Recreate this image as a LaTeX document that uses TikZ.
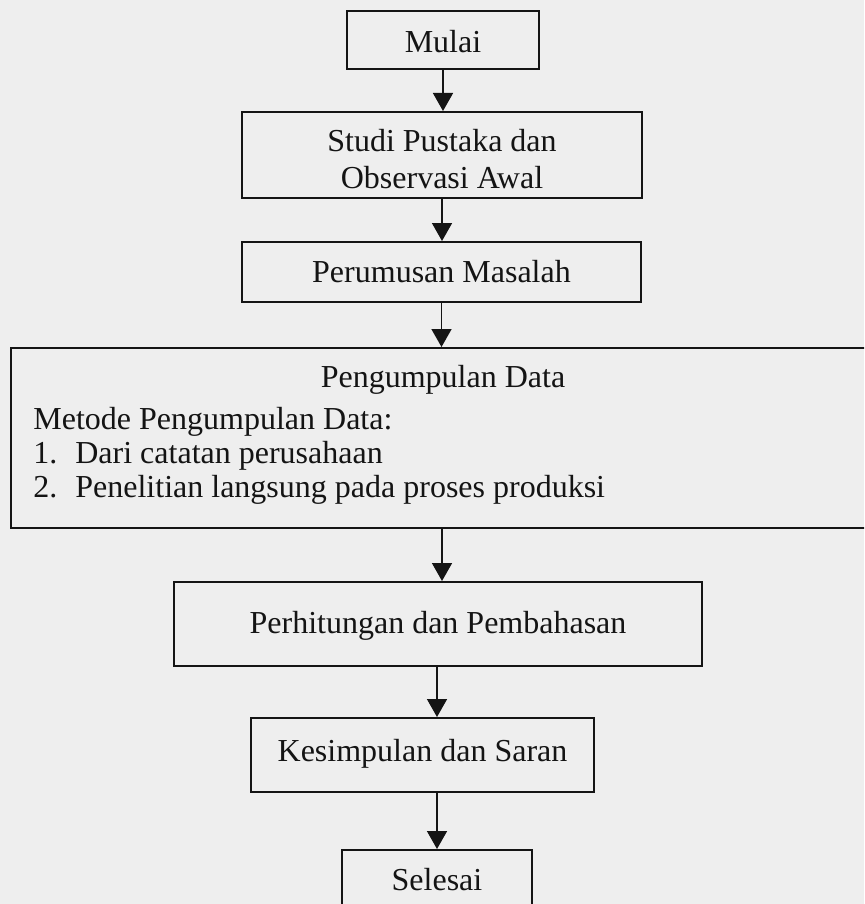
\documentclass[tikz,border=0pt]{standalone}
\usepackage{fontspec}
\setmainfont{Liberation Serif}
\usetikzlibrary{arrows.meta}
\definecolor{paper}{RGB}{238,238,238}
\definecolor{ink}{RGB}{20,20,20}
\begin{document}
\begin{tikzpicture}[x=0.5pt,y=-0.5pt,
  box/.style={draw=ink,line width=1pt,rectangle,inner sep=0pt,align=center,
    font=\fontsize{16}{18}\selectfont,text=ink},
  txt/.style={inner sep=0pt,font=\fontsize{16}{18}\selectfont,text=ink},
  arr/.style={draw=ink,line width=0.8pt,-{Triangle[length=9pt,width=10pt]}}]
\fill[paper] (0,0) rectangle (864,904);
\useasboundingbox (0,0) rectangle (864,904);
\clip (0,0) rectangle (864,904);
% boxes
\node[box,minimum width=96pt,minimum height=29pt] (mulai) at (443,40) {};
\node[txt] (mulaiT) at (443,42) {Mulai};
\node[box,minimum width=200pt,minimum height=43pt] (studi) at (442,155) {};
\node[txt] (studiA) at (442,141) {Studi Pustaka dan};
\node[txt] (studiB) at (442,178) {Observasi Awal};
\node[box,minimum width=199.5pt,minimum height=30pt] (rumus) at (441.5,272) {};
\node[txt] (rumusT) at (441.5,272) {Perumusan Masalah};
\node[box,minimum width=444.5pt,minimum height=90pt] (big) at (455.5,438) {};
\node[txt,anchor=base] (bigT) at (443,387) {Pengumpulan Data};
\node[txt,anchor=base west] (metode) at (33,429) {Metode Pengumpulan Data:};
\node[txt,anchor=base west] (i1) at (33,463) {\makebox[21pt][l]{1.}Dari catatan perusahaan};
\node[txt,anchor=base west] (i2) at (33,497) {\makebox[21pt][l]{2.}Penelitian langsung pada proses produksi};
\node[box,minimum width=264pt,minimum height=42pt] (hitung) at (438,624) {};
\node[txt] (hitungT) at (438,626) {Perhitungan dan Pembahasan};
\node[box,minimum width=171.5pt,minimum height=37pt] (simpul) at (422.5,755) {};
\node[txt] (simpulT) at (422.5,754) {Kesimpulan dan Saran};
\node[box,minimum width=95pt,minimum height=30pt] (selesai) at (437,880) {};
\node[txt] (selesaiT) at (437,880) {Selesai};
% connectors
\draw[arr] (mulai.south) -- (mulai.south |- studi.north);
\draw[arr] (studi.south) -- (studi.south |- rumus.north);
\draw[arr] (rumus.south) -- (rumus.south |- big.north);
\draw[arr] (studi.south |- big.south) -- (studi.south |- hitung.north);
\draw[arr] (selesai.north |- hitung.south) -- (selesai.north |- simpul.north);
\draw[arr] (selesai.north |- simpul.south) -- (selesai.north);
\end{tikzpicture}
\end{document}
